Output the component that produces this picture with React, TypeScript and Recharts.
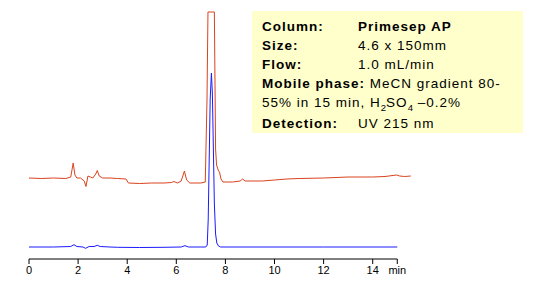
import { LineChart, Line, XAxis, YAxis, ReferenceLine } from 'recharts';

// retention time (min) and detector signal
const redTime = [
  0, 0.5, 1.0, 1.5, 1.7, 1.8, 1.87, 1.95, 2.1, 2.25, 2.32, 2.4, 2.5, 2.6, 2.72, 2.78, 2.86, 3.0, 3.3, 3.6,
  3.95, 4.05, 4.5, 5.0, 5.5, 5.8, 5.9, 6.05, 6.2, 6.33, 6.42, 6.55, 7.0, 7.18, 7.25, 7.29, 7.55, 7.6, 7.64,
  7.72, 7.76, 7.82, 7.9, 8.3, 8.6, 8.7, 8.8, 9.0, 9.5, 10.0, 10.5, 11.0, 12.0, 13.0, 14.0, 14.5, 14.97,
  15.1, 15.3, 15.55,
];
const redSignal = [
  81, 80.5, 81, 80.5, 82, 96, 84, 81, 81, 78, 72.5, 83, 82, 81, 85, 88.5, 83, 81, 81, 80.5,
  80, 76, 75.5, 76, 76, 76.5, 77.5, 76, 78, 88, 79, 76, 76, 77, 159, 247, 247, 110, 94,
  88, 87, 80, 77, 77, 78, 80, 78, 78, 78, 79, 80, 80.5, 81, 82, 82, 82.5, 84,
  83, 82.5, 83,
];

const blueTime = [
  0, 1.0, 1.7, 1.83, 1.95, 2.2, 2.3, 2.45, 2.65, 2.78, 2.9, 3.3, 3.6, 4.5, 5.5, 6.2, 6.35, 6.5, 7.0, 7.2,
  7.26, 7.3, 7.34, 7.38, 7.43, 7.47, 7.51, 7.55, 7.6, 7.65, 7.72, 7.8, 9.0, 10.3, 12.0, 15.0,
];
const blueSignal = [
  12, 12, 12.5, 14.3, 12.5, 12, 10.7, 12.5, 12.5, 13.7, 12.5, 12, 11.7, 11.5, 11.7, 12, 13.3, 12, 12, 12,
  14, 40, 100, 160, 186, 165, 110, 55, 25, 16, 13, 12, 12, 12, 12, 12,
];

const xTicks = [0, 2, 4, 6, 8, 10, 12, 14, 15];

const redData = redTime.map((t, i) => ({ t, v: redSignal[i] }));
const blueData = blueTime.map((t, i) => ({ t, v: blueSignal[i] }));

const labelFont = '"Liberation Sans", Arial, sans-serif';
const subStyle = { fontSize: 9.5, lineHeight: 0, letterSpacing: 0 };
const keyStyle = { display: 'inline-block', width: 96 };

export default function App() {
  return (
    <div style={{ position: 'absolute', left: 0, top: 0, width: 540, height: 288, background: '#fff' }}>
      <LineChart width={540} height={288} margin={{ top: 11, right: 128, bottom: 0, left: 29 }}>
        <XAxis
          type="number"
          dataKey="t"
          domain={[0, 15.6]}
          ticks={xTicks}
          tickFormatter={(v: number) => (v === 15 ? 'min' : String(v))}
          height={29}
          axisLine={false}
          tickLine={{ stroke: '#000' }}
          tickSize={5}
          tickMargin={2}
          tick={{ fill: '#000', fontSize: 11, fontFamily: labelFont }}
          allowDataOverflow
        />
        <YAxis hide domain={[0, 248]} allowDataOverflow />
        <ReferenceLine
          segment={[{ x: 0, y: 0 }, { x: 15, y: 0 }]}
          stroke="#000"
          strokeWidth={1}
        />
        <Line
          data={redData}
          dataKey="v"
          type="linear"
          stroke="#d9431e"
          strokeWidth={1}
          dot={false}
          isAnimationActive={false}
        />
        <Line
          data={blueData}
          dataKey="v"
          type="linear"
          stroke="#1a1aff"
          strokeWidth={1}
          dot={false}
          isAnimationActive={false}
        />
      </LineChart>
      <div
        style={{
          position: 'absolute',
          left: 252,
          top: 11,
          width: 261,
          height: 116,
          padding: '6px 0 0 10px',
          background: '#ffffcc',
          fontFamily: labelFont,
          fontSize: 13.5,
          letterSpacing: 1,
          lineHeight: '19px',
          color: '#000',
          whiteSpace: 'nowrap',
        }}
      >
        <div>
          <b style={keyStyle}>Column:</b>
          <b>Primesep AP</b>
        </div>
        <div>
          <b style={keyStyle}>Size:</b>4.6 x 150mm
        </div>
        <div>
          <b style={keyStyle}>Flow:</b>1.0 mL/min
        </div>
        <div>
          <b>Mobile phase:</b> MeCN gradient 80-
          <br />
          55% in 15 min, H<sub style={subStyle}>2</sub>SO<sub style={subStyle}>4</sub> –0.2%
        </div>
        <div style={{ marginTop: 2 }}>
          <b style={keyStyle}>Detection:</b>UV 215 nm
        </div>
      </div>
    </div>
  );
}
